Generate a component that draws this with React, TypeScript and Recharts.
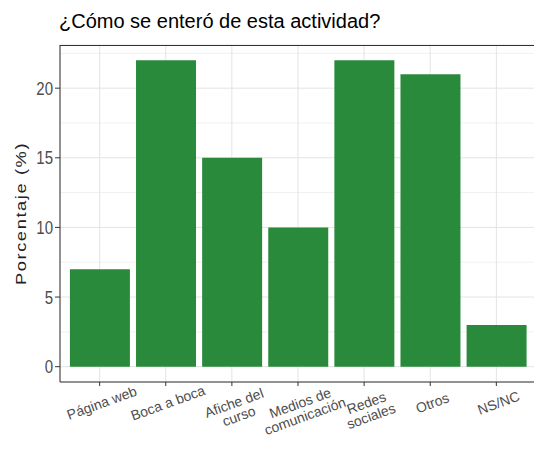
import React from 'react';
import { BarChart, Bar, XAxis, YAxis, CartesianGrid } from 'recharts';

const categories = [
  'Página web',
  'Boca a boca',
  'Afiche del\ncurso',
  'Medios de\ncomunicación',
  'Redes\nsociales',
  'Otros',
  'NS/NC',
];
const percentages = [7, 22, 15, 10, 22, 21, 3];
const yTicks = [0, 5, 10, 15, 20];
const yMinorValues = [2.5, 7.5, 12.5, 17.5, 22.5];
const yDomain: [number, number] = [-1.1, 23.1];
const chartTitle = '¿Cómo se enteró de esta actividad?';
const yTitle = 'Porcentaje (%)';

const data = categories.map((c, i) => ({ category: c, value: percentages[i] }));

const FONT = '"Liberation Sans", Arial, sans-serif';
const TEXT_GREY = '#4d4d4d';
const AXIS = '#333333';
const BAR = '#2a8a3b';

const XTick = (props: any) => {
  const { x, y, payload } = props;
  const lines = String(payload.value).split('\n');
  return (
    <g transform={`translate(${x},${y + 9}) rotate(-20)`}>
      <text textAnchor="middle" fill={TEXT_GREY} fontSize={14} fontFamily={FONT}>
        {lines.map((l, i) => (
          <tspan key={i} x={0} dy={i === 0 ? '0.8em' : 14}>
            {l}
          </tspan>
        ))}
      </text>
    </g>
  );
};

const YTick = (props: any) => {
  const { x, y, payload } = props;
  return (
    <g transform={`translate(${x},${y}) scale(1,1.22)`}>
      <text x={0} y={0} dy="0.355em" textAnchor="end" fill={TEXT_GREY} fontSize={15} fontFamily={FONT}>
        {payload.value}
      </text>
    </g>
  );
};

const YTitle = (props: any) => {
  const vb = props.viewBox || { x: 0, y: 45, width: 60, height: 337 };
  const cx = vb.x + 26;
  const cy = vb.y + vb.height / 2;
  return (
    <g transform={`translate(${cx},${cy}) rotate(-90) scale(1.22,1)`}>
      <text
        x={0}
        y={0}
        textAnchor="middle"
        fill="#222"
        fontSize={15}
        fontFamily={FONT}
        letterSpacing={1.3}
      >
        {yTitle}
      </text>
    </g>
  );
};

const minorGen = (props: any) => {
  const s = props?.yAxis?.scale;
  if (typeof s === 'function') return yMinorValues.map((v) => s(v));
  if (s && typeof s.map === 'function') return yMinorValues.map((v) => s.map(v));
  if (s && typeof s.apply === 'function') return yMinorValues.map((v) => s.apply(v));
  const off = props?.offset;
  if (!off) return [];
  const [lo, hi] = yDomain;
  return yMinorValues.map((v) => off.top + ((hi - v) / (hi - lo)) * off.height);
};

export default function App() {
  return (
    <div
      style={{
        position: 'absolute',
        left: 0,
        top: 0,
        width: 534,
        height: 457,
        overflow: 'hidden',
        background: '#fff',
      }}
    >
      <svg width={534} height={40} style={{ position: 'absolute', left: 0, top: 0 }}>
        <text x={59} y={28} fontSize={20} fontFamily={FONT} fill="#000">
          {chartTitle}
        </text>
      </svg>
      <div style={{ position: 'absolute', left: 0, top: 0 }}>
        <BarChart
          width={545}
          height={457}
          data={data}
          margin={{ top: 45, right: 9, bottom: 0, left: 0 }}
          barCategoryGap="5%"
        >
          <CartesianGrid
            stroke="#f0f0f0"
            vertical={false}
            horizontalCoordinatesGenerator={minorGen}
          />
          <CartesianGrid stroke="#e3e3e3" />
          <XAxis
            dataKey="category"
            height={75}
            interval={0}
            tickSize={4}
            tickMargin={2}
            tick={<XTick />}
            tickLine={{ stroke: AXIS }}
            axisLine={{ stroke: AXIS }}
            padding={{ left: 6.6, right: 6.6 }}
          />
          <YAxis
            type="number"
            domain={yDomain}
            ticks={yTicks}
            allowDataOverflow
            interval={0}
            width={60}
            tickSize={5}
            tickMargin={2}
            tick={<YTick />}
            tickLine={{ stroke: AXIS }}
            axisLine={{ stroke: AXIS }}
            label={<YTitle />}
          />
          <Bar dataKey="value" fill={BAR} isAnimationActive={false} />
        </BarChart>
      </div>
      <div
        style={{
          position: 'absolute',
          left: 59.5,
          top: 44.5,
          width: 480,
          height: 1,
          background: AXIS,
        }}
      />
    </div>
  );
}
